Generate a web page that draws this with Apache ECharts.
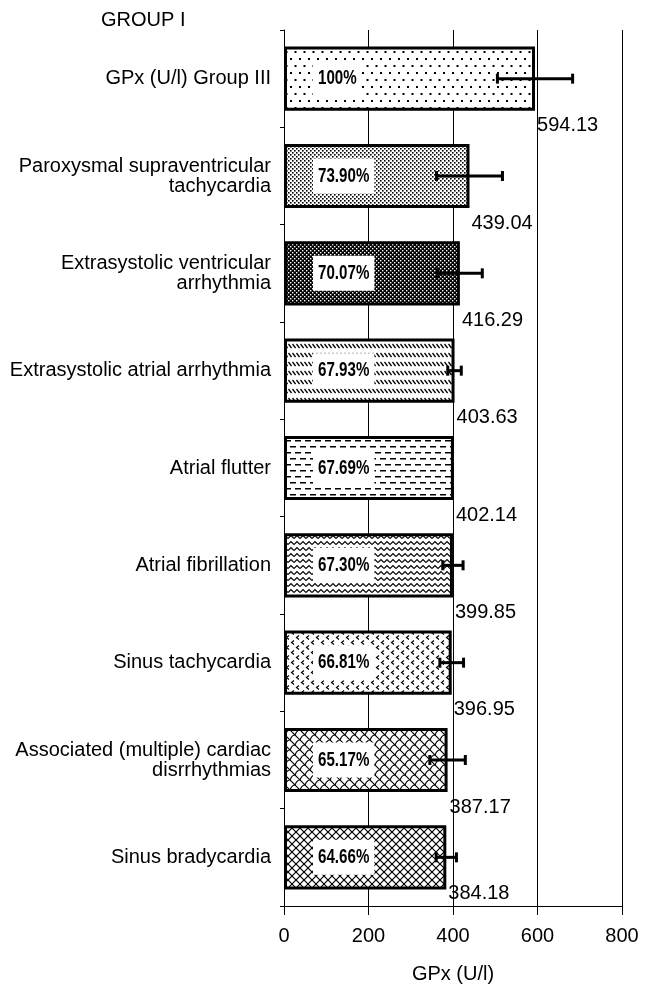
<!DOCTYPE html>
<html>
<head>
<meta charset="utf-8">
<script src="https://cdn.jsdelivr.net/npm/echarts@6/dist/echarts.min.js"></script>
<style>html,body{margin:0;padding:0;background:#fff}#c{width:646px;height:994px}</style>
</head>
<body>
<div id="c"></div>
<script>
const categories = [
  'GPx (U/l) Group III',
  'Paroxysmal supraventricular\ntachycardia',
  'Extrasystolic ventricular\narrhythmia',
  'Extrasystolic atrial arrhythmia',
  'Atrial flutter',
  'Atrial fibrillation',
  'Sinus tachycardia',
  'Associated (multiple) cardiac\ndisrrhythmias',
  'Sinus bradycardia'
];
const values = [594.13, 439.04, 416.29, 403.63, 402.14, 399.85, 396.95, 387.17, 384.18];
const percents = [100, 73.90, 70.07, 67.93, 67.69, 67.30, 66.81, 65.17, 64.66];
const errors = [89, 78, 53, 16, 0, 24, 28, 42, 24];
const xTicks = [0, 200, 400, 600, 800];
const titleText = 'GROUP I';
const axisTitle = 'GPx (U/l)';

const FONT = '"Liberation Sans", Arial, Helvetica, sans-serif';

function tile(w, h, draw, bg) {
  const c = document.createElement('canvas');
  c.width = w; c.height = h;
  const g = c.getContext('2d');
  g.fillStyle = bg || '#fff';
  g.fillRect(0, 0, w, h);
  g.fillStyle = '#000';
  g.strokeStyle = '#000';
  draw(g);
  return c;
}
const patterns = [
  tile(9, 14, g => { g.fillRect(2, 2, 2, 2); g.fillRect(6.5, 9, 2, 2); }),
  tile(4, 4, g => { g.fillRect(0, 0, 1.6, 1.6); g.fillRect(2, 2, 1.6, 1.6); }),
  tile(4, 4, g => { g.fillStyle = '#fff'; g.fillRect(0, 0, 1.4, 1.4); g.fillRect(2, 2, 1.4, 1.4); }, '#000'),
  tile(4, 9, g => { g.lineWidth = 1.3; g.beginPath(); g.moveTo(0.5, 2); g.lineTo(3.5, 6); g.stroke(); }),
  tile(10, 12, g => { g.fillRect(0, 2, 6, 1.5); g.fillRect(5, 8, 5, 1.5); g.fillRect(0, 8, 1, 1.5); }),
  tile(6, 6, g => { g.lineWidth = 1.2; g.beginPath(); g.moveTo(0, 4.5); g.lineTo(3, 1.5); g.lineTo(6, 4.5); g.stroke(); }),
  tile(10, 10, g => { g.lineWidth = 1.2; g.beginPath(); g.moveTo(4, 0.5); g.lineTo(1.5, 2.5); g.lineTo(4, 4.5); g.stroke();
    g.beginPath(); g.moveTo(9, 5.5); g.lineTo(6.5, 7.5); g.lineTo(9, 9.5); g.stroke(); }),
  tile(10, 10, g => { g.lineWidth = 1.2; g.beginPath(); g.moveTo(0, 0); g.lineTo(10, 10); g.stroke();
    g.beginPath(); g.moveTo(0, 10); g.quadraticCurveTo(2, 5, 5, 5); g.stroke();
    g.beginPath(); g.moveTo(5, 5); g.quadraticCurveTo(7, 0, 10, 0); g.stroke(); }),
  tile(8, 8, g => { g.lineWidth = 1.2; g.beginPath(); g.moveTo(0, 0); g.lineTo(8, 8); g.moveTo(0, 8); g.lineTo(8, 0); g.stroke(); })
];

const barData = values.map((v, i) => ({
  value: v,
  itemStyle: { color: { image: patterns[i], repeat: 'repeat' } }
}));

const overlayData = values.map((v, i) => [i, v, errors[i], percents[i]]);

const chart = echarts.init(document.getElementById('c'), null, { renderer: 'canvas' });
chart.setOption({
  animation: false,
  title: {
    text: titleText, left: 96, top: 5,
    textStyle: { fontSize: 20, fontWeight: 'normal', color: '#000', fontFamily: FONT }
  },
  grid: { left: 284, right: 24, top: 30, bottom: 88, containLabel: false },
  xAxis: {
    type: 'value', min: 0, max: 800, interval: 200,
    name: axisTitle, nameLocation: 'middle', nameGap: 58,
    nameTextStyle: { fontSize: 20, color: '#000', fontFamily: FONT },
    axisLine: { show: true, lineStyle: { color: '#000', width: 1 } },
    axisTick: { show: true, length: 9, lineStyle: { color: '#000', width: 1 } },
    axisLabel: { fontSize: 20, color: '#000', fontFamily: FONT, margin: 20, customValues: xTicks },
    splitLine: { show: true, lineStyle: { color: '#000', width: 1 } }
  },
  yAxis: {
    type: 'category', data: categories, inverse: true,
    axisLine: { show: true, lineStyle: { color: '#000', width: 1 } },
    axisTick: { show: true, length: 4, lineStyle: { color: '#000', width: 1 } },
    axisLabel: { fontSize: 20, color: '#000', fontFamily: FONT, margin: 13, lineHeight: 20, align: 'right' },
    splitLine: { show: false }
  },
  series: [
    {
      type: 'bar', data: barData, barWidth: '66%',
      itemStyle: { borderColor: '#000', borderWidth: 3 },
      silent: true, z: 2
    },
    {
      type: 'custom', z: 5, silent: true,
      renderItem: (params, api) => {
        const idx = api.value(0);
        const v = api.value(1);
        const err = api.value(2);
        const pct = api.value(3);
        const base = api.coord([0, idx]);
        const end = api.coord([v, idx]);
        const cy = end[1];
        const children = [];
        children.push({
          type: 'text', x: base[0] + 29, y: cy, scaleX: 0.72,
          style: {
            text: (pct === 100 ? '100' : pct.toFixed(2)) + '%',
            fontSize: 21, fontWeight: 'bold', fontFamily: FONT, fill: '#000',
            backgroundColor: '#fff', padding: [7, 7],
            align: 'left', verticalAlign: 'middle'
          }
        });
        if (err > 0) {
          const p1 = api.coord([v - err, idx]);
          const p2 = api.coord([v + err, idx]);
          const h = 5;
          const st = { stroke: '#000', lineWidth: 3 };
          children.push(
            { type: 'line', shape: { x1: p1[0], y1: cy, x2: p2[0], y2: cy }, style: st },
            { type: 'line', shape: { x1: p1[0], y1: cy - h, x2: p1[0], y2: cy + h }, style: st },
            { type: 'line', shape: { x1: p2[0], y1: cy - h, x2: p2[0], y2: cy + h }, style: st }
          );
        }
        const dy = idx === values.length - 1 ? 36 : 47;
        children.push({
          type: 'text', x: end[0] + 2, y: cy + dy,
          style: {
            text: v.toFixed(2), fontSize: 20, fontFamily: FONT, fill: '#000',
            align: 'left', verticalAlign: 'middle'
          }
        });
        return { type: 'group', children };
      },
      encode: { y: 0, x: 1 },
      data: overlayData
    }
  ]
});
</script>
</body>
</html>
